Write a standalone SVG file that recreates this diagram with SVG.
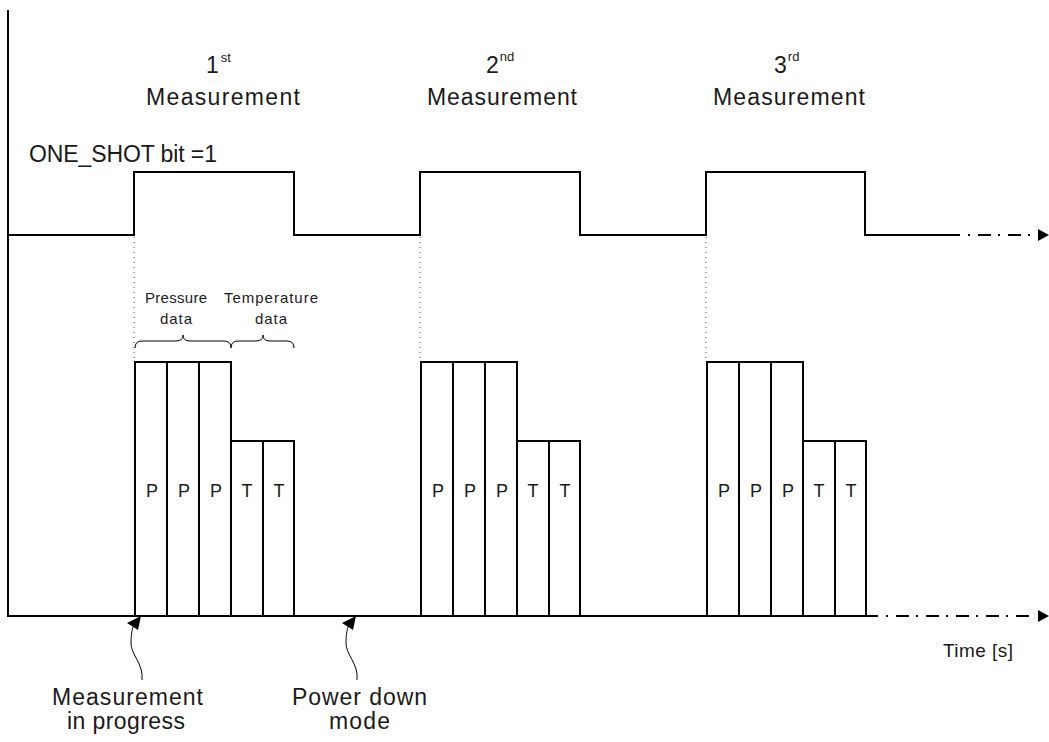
<svg xmlns="http://www.w3.org/2000/svg" width="1049" height="742" viewBox="0 0 1049 742">
<style>
text{font-family:"Liberation Sans",Arial,sans-serif;fill:#1a1a1a}
.big{font-size:23px}
.sup{font-size:13px}
.small{font-size:15px}
.lbl{font-size:18px;text-anchor:middle}
.ln{fill:none;stroke:#000;stroke-width:2}
.bar{fill:none;stroke:#000;stroke-width:2}
.dot{fill:none;stroke:#555;stroke-width:1;stroke-dasharray:1 4}
.dd{fill:none;stroke:#000;stroke-width:2;stroke-dasharray:2 8 13 7}
.thin{fill:none;stroke:#000;stroke-width:1}
.head{fill:#000}
</style>
<rect width="1049" height="742" fill="#fff"/>
<g id="axes">
<path class="ln" d="M8,10 V616 H878"/>
<path class="dd" d="M886,616 H1036"/>
<polygon class="head" points="1049,616 1038,610 1038,622"/>
</g>
<g id="signal">
<path class="ln" d="M8,235 H134 V172 H294 V235 H420 V172 H580 V235 H706 V172 H865 V235 H960"/>
<path class="dd" d="M968,235 H1036"/>
<polygon class="head" points="1049,235 1038,229 1038,241"/>
<path class="dot" d="M134,237 V358 M420,237 V358 M706,237 V358"/>
</g>
<g id="headers">
<text class="big" x="206" y="73">1<tspan class="sup" dx="2" dy="-11">st</tspan></text>
<text class="big" x="146" y="105" textLength="154" lengthAdjust="spacing">Measurement</text>
<text class="big" x="486" y="73">2<tspan class="sup" dx="1" dy="-12">nd</tspan></text>
<text class="big" x="427" y="105" textLength="150" lengthAdjust="spacing">Measurement</text>
<text class="big" x="774" y="73">3<tspan class="sup" dx="1" dy="-12">rd</tspan></text>
<text class="big" x="713" y="105" textLength="152" lengthAdjust="spacing">Measurement</text>
<text class="big" x="29" y="162" textLength="188" lengthAdjust="spacing">ONE_SHOT bit =1</text>
</g>
<g id="braces">
<path class="thin" d="M135,348 Q135,341 142,341 L176,341 Q183,341 183,335 Q183,341 190,341 L224,341 Q231,341 231,348"/>
<path class="thin" d="M231,348 Q231,341 238,341 L256,341 Q263,341 263,335 Q263,341 270,341 L287,341 Q294,341 294,348"/>
<text class="small" x="145" y="303" textLength="62" lengthAdjust="spacing">Pressure</text>
<text class="small" x="160" y="324" textLength="32" lengthAdjust="spacing">data</text>
<text class="small" x="224" y="303" textLength="94" lengthAdjust="spacing">Temperature</text>
<text class="small" x="255" y="324" textLength="32" lengthAdjust="spacing">data</text>
</g>
<g id="group1">
<path class="bar" d="M135,616 V362 H231 V616 M167,362 V616 M199,362 V616 M231,441 H294 V616 M263,441 V616"/>
<text class="lbl" x="152" y="497">P</text><text class="lbl" x="184" y="497">P</text><text class="lbl" x="216" y="497">P</text><text class="lbl" x="247" y="497">T</text><text class="lbl" x="279" y="497">T</text>
</g>
<g id="group2">
<path class="bar" d="M421,616 V362 H517 V616 M453,362 V616 M485,362 V616 M517,441 H580 V616 M549,441 V616"/>
<text class="lbl" x="438" y="497">P</text><text class="lbl" x="470" y="497">P</text><text class="lbl" x="502" y="497">P</text><text class="lbl" x="533" y="497">T</text><text class="lbl" x="565" y="497">T</text>
</g>
<g id="group3">
<path class="bar" d="M707,616 V362 H803 V616 M739,362 V616 M771,362 V616 M803,441 H866 V616 M835,441 V616"/>
<text class="lbl" x="724" y="497">P</text><text class="lbl" x="756" y="497">P</text><text class="lbl" x="788" y="497">P</text><text class="lbl" x="819" y="497">T</text><text class="lbl" x="851" y="497">T</text>
</g>
<g id="callouts">
<path class="thin" d="M142,680 C144,664 130,654 131,642 C131,636 132,630 133,627"/>
<polygon class="head" points="141,616 127,623 138,630"/>
<path class="thin" d="M357,680 C359,664 345,654 346,642 C346,636 347,630 348,627"/>
<polygon class="head" points="356,616 342,623 353,630"/>
<text class="big" x="52" y="705" textLength="151" lengthAdjust="spacing">Measurement</text>
<text class="big" x="67" y="729" textLength="118" lengthAdjust="spacing">in progress</text>
<text class="big" x="292" y="705" textLength="135" lengthAdjust="spacing">Power down</text>
<text class="big" x="329" y="729" textLength="61" lengthAdjust="spacing">mode</text>
<text class="big" x="943" y="657" textLength="70" lengthAdjust="spacing" style="font-size:19px">Time [s]</text>
</g>
</svg>
